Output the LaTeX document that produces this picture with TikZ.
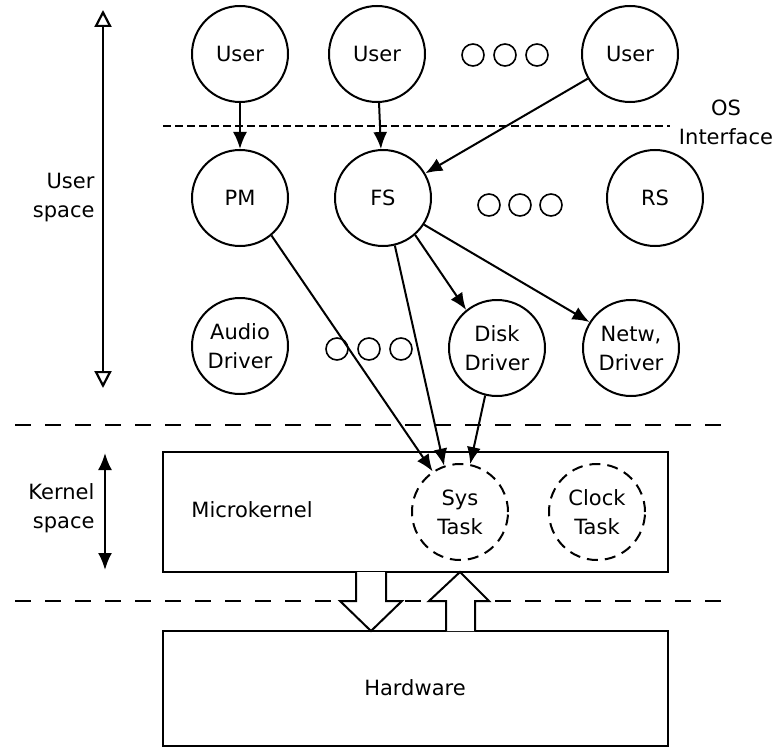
\documentclass[tikz,border=0pt]{standalone}
\usepackage{fontspec}
\setmainfont{DejaVu Sans}
\usetikzlibrary{arrows.meta}
\begin{document}
\begin{tikzpicture}[x=1pt,y=-1pt,font=\fontsize{21}{29}\selectfont]
  \tikzset{ProcStyle/.style = {shape        = circle,
                               draw,
                               line width   = 2pt,
                               minimum size = 96pt,
                               inner sep    = 0pt,
                               align        = center}}
  \tikzset{TaskStyle/.style = {ProcStyle,
                               dash pattern = on 11pt off 7pt}}
  \tikzset{DotStyle/.style  = {shape        = circle,
                               draw,
                               line width   = 1.6pt,
                               minimum size = 22pt,
                               inner sep    = 0pt}}
  \tikzset{BoxStyle/.style  = {draw,
                               line width   = 2.2pt,
                               minimum width  = 505pt,
                               inner sep    = 0pt}}
  \tikzset{EdgeStyle/.style = {line width = 2pt,
                               -{Latex[length=17pt,width=14pt]}}}
  \tikzset{LayerStyle/.style = {line width = 2.2pt,
                               dash pattern = on 16pt off 14pt}}

\useasboundingbox (0,0) rectangle (779,749);

% layers
\draw[line width=2.2pt,dash pattern=on 8pt off 4pt] (163,126) -- (670,126);
\draw[LayerStyle] (15,425) -- (730,425);
\draw[LayerStyle] (15,601) -- (730,601);

% user processes
\node[ProcStyle] (user1) at (240,54) {User};
\node[ProcStyle] (user2) at (377,54) {User};
\node[ProcStyle] (user3) at (630,54) {User};
\node[DotStyle] (ud1) at (473,55) {};
\node[DotStyle] (ud2) at (505,55) {};
\node[DotStyle] (ud3) at (537,55) {};

% servers
\node[ProcStyle] (pm) at (240,198) {PM};
\node[ProcStyle] (fs) at (383,198) {FS};
\node[ProcStyle] (rs) at (655,198) {RS};
\node[DotStyle] (sd1) at (489,205) {};
\node[DotStyle] (sd2) at (520,205) {};
\node[DotStyle] (sd3) at (551,205) {};

% drivers
\node[ProcStyle] (audio) at (240,346) {Audio\\Driver};
\node[ProcStyle] (disk)  at (497,348) {Disk\\Driver};
\node[ProcStyle] (netw)  at (631,348) {Netw,\\Driver};
\node[DotStyle] (dd1) at (337,349) {};
\node[DotStyle] (dd2) at (369,349) {};
\node[DotStyle] (dd3) at (401,349) {};

% kernel and hardware
\node[BoxStyle,minimum height=120pt] (kernel) at (415.5,512) {};
\node[BoxStyle,minimum height=115pt] (hw) at (415.5,688.5) {};
\node (mk) at (252,510) {Microkernel};
\node (hwlabel) at (415,688) {Hardware};
\node[TaskStyle] (sys)   at (460,512) {Sys\\Task};
\node[TaskStyle] (clock) at (597,512) {Clock\\Task};

\draw[line width=2pt,fill=white] (356,572) -- (356,601) -- (340,601) -- (371,631)
  -- (402,601) -- (386,601) -- (386,572);
\draw[line width=2pt,fill=white] (446,631) -- (446,601) -- (429,601) -- (460,572)
  -- (489,601) -- (475,601) -- (475,631);

% messages
\draw[EdgeStyle] (user1) -- (pm);
\draw[EdgeStyle] (user2) -- (fs);
\draw[EdgeStyle] (user3) -- (fs);
\draw[EdgeStyle] (pm.-50) -- (sys.124);
\draw[EdgeStyle] (fs.-76) -- (sys.109);
\draw[EdgeStyle] (fs.-49) -- (disk.129);
\draw[EdgeStyle] (fs.-33) -- (netw.148);
\draw[EdgeStyle] (disk.-104) -- (sys.78);

% side labels
\coordinate (UsTop) at (103,10);
\coordinate (UsBot) at (103,388);
\coordinate (KsTop) at (105,453);
\coordinate (KsBot) at (105,570);
\draw[line width=2.2pt,{Triangle[open,length=17pt,width=17pt]}-{Triangle[open,length=17pt,width=17pt]}] (UsTop) -- (UsBot);
\draw[line width=2.2pt,{Latex[length=17pt,width=14pt]}-{Latex[length=17pt,width=14pt]}] (KsTop) -- (KsBot);
\node[anchor=east,align=right] (uslabel) at (98,198) {User\\space};
\node[anchor=east,align=right] (kslabel) at (98,508) {Kernel\\space};
\node[align=center] (oslabel) at (726,122) {OS\\Interface};

\end{tikzpicture}
\end{document}
